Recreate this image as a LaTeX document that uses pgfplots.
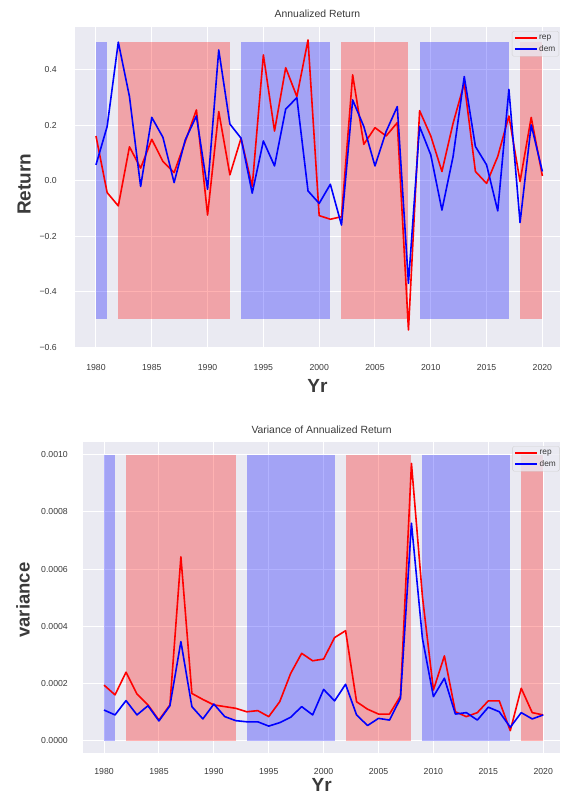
\documentclass[border=0pt]{standalone}
\usepackage{fontspec}
\setmainfont{Liberation Sans}
\usepackage{pgfplots}
\pgfplotsset{compat=1.18}
\definecolor{bg}{HTML}{EAEAF2}
\definecolor{txt}{HTML}{3A3A3A}
\pgfplotsset{
 sbstyle/.style={
  scale only axis,
  axis background/.style={fill=bg},
  axis line style={draw=none},
  major tick style={draw=none}, minor tick style={draw=none},
  grid=major, grid style={white, line width=1pt},
  xtick={1980,1985,1990,1995,2000,2005,2010,2015,2020},
  xticklabels={1980,1985,1990,1995,2000,2005,2010,2015,2020},
  ticklabel style={font=\fontsize{8.7}{10}\selectfont, text=txt},
  xticklabel style={anchor=north, inner sep=0pt, yshift=-16pt},
  title style={font=\fontsize{10.4}{12}\selectfont, text=txt, at={(axis description cs:0.5,1)}, anchor=center, yshift=7pt},
  xlabel style={font=\fontsize{19}{22}\selectfont\bfseries, text=txt, inner sep=0pt, at={(axis description cs:0.5,0)}, anchor=center, yshift=-38pt},
  legend cell align=left,
  legend image code/.code={\draw[#1, line width=1.6pt] (0pt,0pt) -- (22pt,0pt);},
  legend style={anchor=north east, font=\fontsize{8.3}{9.5}\selectfont, fill=bg, fill opacity=0.8, text opacity=1, draw=black!18, rounded corners=1.5pt, inner sep=2pt, row sep=1.5pt, nodes={inner sep=1.5pt, text=txt}},
 },
 band/.style={draw=none, fill=#1, fill opacity=0.3, forget plot},
 ln/.style={#1, line width=1.6pt, line join=round, forget plot},
}
\begin{document}
\begin{tikzpicture}
\path[use as bounding box] (0pt,0pt) rectangle (561pt,795pt);
% ---------------- top axis
\begin{axis}[sbstyle,
  at={(75pt,447pt)}, anchor=south west,
  width=485pt, height=320.8pt,
  xmin=1978.12, xmax=2021.58, ymin=-0.603, ymax=0.553,
  ytick={-0.6,-0.4,-0.2,0,0.2,0.4},
  yticklabels={−0.6,−0.4,−0.2,0.0,0.2,0.4},
  yticklabel style={anchor=east, inner sep=0pt, xshift=-18pt},
  title={Annualized Return},
  xlabel={Yr}, ylabel={Return},
  ylabel style={font=\fontsize{19}{22}\selectfont\bfseries, text=txt, at={(axis description cs:-0.105,0.51)}, anchor=center},
  legend style={at={(axis description cs:0.998,0.988)}},
]
\addlegendimage{draw=red, line width=1.6pt}
\addlegendentry{rep}
\addlegendimage{draw=blue, line width=1.6pt}
\addlegendentry{dem}
\addplot[band=blue] coordinates {(1980,-0.5) (1981,-0.5) (1981,0.5) (1980,0.5)} -- cycle;
\addplot[band=red] coordinates {(1982,-0.5) (1992,-0.5) (1992,0.5) (1982,0.5)} -- cycle;
\addplot[band=blue] coordinates {(1993,-0.5) (2001,-0.5) (2001,0.5) (1993,0.5)} -- cycle;
\addplot[band=red] coordinates {(2002,-0.5) (2008,-0.5) (2008,0.5) (2002,0.5)} -- cycle;
\addplot[band=blue] coordinates {(2009,-0.5) (2017,-0.5) (2017,0.5) (2009,0.5)} -- cycle;
\addplot[band=red] coordinates {(2018,-0.5) (2020,-0.5) (2020,0.5) (2018,0.5)} -- cycle;
\addplot[ln=red] coordinates {
(1980,0.161) (1981,-0.043) (1982,-0.091) (1983,0.122) (1984,0.045) (1985,0.149) (1986,0.069) (1987,0.029) (1988,0.141) (1989,0.255)
(1990,-0.124) (1991,0.249) (1992,0.021) (1993,0.153) (1994,-0.021) (1995,0.453) (1996,0.179) (1997,0.407) (1998,0.303) (1999,0.507)
(2000,-0.126) (2001,-0.139) (2002,-0.130) (2003,0.381) (2004,0.131) (2005,0.191) (2006,0.161) (2007,0.209) (2008,-0.538) (2009,0.252)
(2010,0.161) (2011,0.033) (2012,0.207) (2013,0.351) (2014,0.033) (2015,-0.010) (2016,0.087) (2017,0.233) (2018,-0.003) (2019,0.228) (2020,0.017)};
\addplot[ln=blue] coordinates {
(1980,0.057) (1981,0.195) (1982,0.499) (1983,0.303) (1984,-0.021) (1985,0.228) (1986,0.156) (1987,-0.007) (1988,0.147) (1989,0.233)
(1990,-0.031) (1991,0.471) (1992,0.204) (1993,0.153) (1994,-0.045) (1995,0.143) (1996,0.053) (1997,0.258) (1998,0.299) (1999,-0.037)
(2000,-0.082) (2001,-0.013) (2002,-0.160) (2003,0.291) (2004,0.195) (2005,0.053) (2006,0.177) (2007,0.267) (2008,-0.370) (2009,0.195)
(2010,0.093) (2011,-0.106) (2012,0.087) (2013,0.375) (2014,0.123) (2015,0.057) (2016,-0.109) (2017,0.329) (2018,-0.151) (2019,0.201) (2020,0.033)};
\end{axis}
% ---------------- bottom axis
\begin{axis}[sbstyle,
  at={(83.3pt,42pt)}, anchor=south west,
  width=476.7pt, height=310.7pt,
  xmin=1978.11, xmax=2021.53, ymin=-0.0000419, ymax=0.0010426,
  scaled y ticks=false,
  ytick={0,0.0002,0.0004,0.0006,0.0008,0.001},
  yticklabels={0.0000,0.0002,0.0004,0.0006,0.0008,0.0010},
  yticklabel style={anchor=east, inner sep=0pt, xshift=-15.3pt},
  xticklabel style={yshift=1pt},
  title={Variance of Annualized Return},
  xlabel={Yr}, ylabel={variance},
  xlabel style={yshift=6.5pt},
  ylabel style={font=\fontsize{18.5}{22}\selectfont\bfseries, text=txt, at={(axis description cs:-0.1265,0.492)}, anchor=center},
  legend style={at={(axis description cs:0.999,0.988)}},
]
\addlegendimage{draw=red, line width=1.6pt}
\addlegendentry{rep}
\addlegendimage{draw=blue, line width=1.6pt}
\addlegendentry{dem}
\addplot[band=blue] coordinates {(1980,0) (1981,0) (1981,0.001) (1980,0.001)} -- cycle;
\addplot[band=red] coordinates {(1982,0) (1992,0) (1992,0.001) (1982,0.001)} -- cycle;
\addplot[band=blue] coordinates {(1993,0) (2001,0) (2001,0.001) (1993,0.001)} -- cycle;
\addplot[band=red] coordinates {(2002,0) (2008,0) (2008,0.001) (2002,0.001)} -- cycle;
\addplot[band=blue] coordinates {(2009,0) (2017,0) (2017,0.001) (2009,0.001)} -- cycle;
\addplot[band=red] coordinates {(2018,0) (2020,0) (2020,0.001) (2018,0.001)} -- cycle;
\addplot[ln=red] coordinates {
(1980,0.000195) (1981,0.000161) (1982,0.000240) (1983,0.000164) (1984,0.000126) (1985,0.000073) (1986,0.000126) (1987,0.000643) (1988,0.000166) (1989,0.000145)
(1990,0.000126) (1991,0.000120) (1992,0.000114) (1993,0.000102) (1994,0.000106) (1995,0.000085) (1996,0.000137) (1997,0.000236) (1998,0.000306) (1999,0.000280)
(2000,0.000286) (2001,0.000361) (2002,0.000385) (2003,0.000137) (2004,0.000111) (2005,0.000094) (2006,0.000094) (2007,0.000157) (2008,0.000969) (2009,0.000504)
(2010,0.000178) (2011,0.000297) (2012,0.000102) (2013,0.000085) (2014,0.000099) (2015,0.000140) (2016,0.000140) (2017,0.000036) (2018,0.000184) (2019,0.000099) (2020,0.000091)};
\addplot[ln=blue] coordinates {
(1980,0.000108) (1981,0.000091) (1982,0.000141) (1983,0.000091) (1984,0.000123) (1985,0.000070) (1986,0.000123) (1987,0.000347) (1988,0.000120) (1989,0.000077)
(1990,0.000129) (1991,0.000085) (1992,0.000071) (1993,0.000067) (1994,0.000067) (1995,0.000052) (1996,0.000064) (1997,0.000083) (1998,0.000120) (1999,0.000091)
(2000,0.000180) (2001,0.000140) (2002,0.000198) (2003,0.000091) (2004,0.000054) (2005,0.000079) (2006,0.000073) (2007,0.000149) (2008,0.000760) (2009,0.000358)
(2010,0.000155) (2011,0.000219) (2012,0.000094) (2013,0.000099) (2014,0.000073) (2015,0.000118) (2016,0.000102) (2017,0.000048) (2018,0.000099) (2019,0.000077) (2020,0.000091)};
\end{axis}
\end{tikzpicture}
\end{document}
